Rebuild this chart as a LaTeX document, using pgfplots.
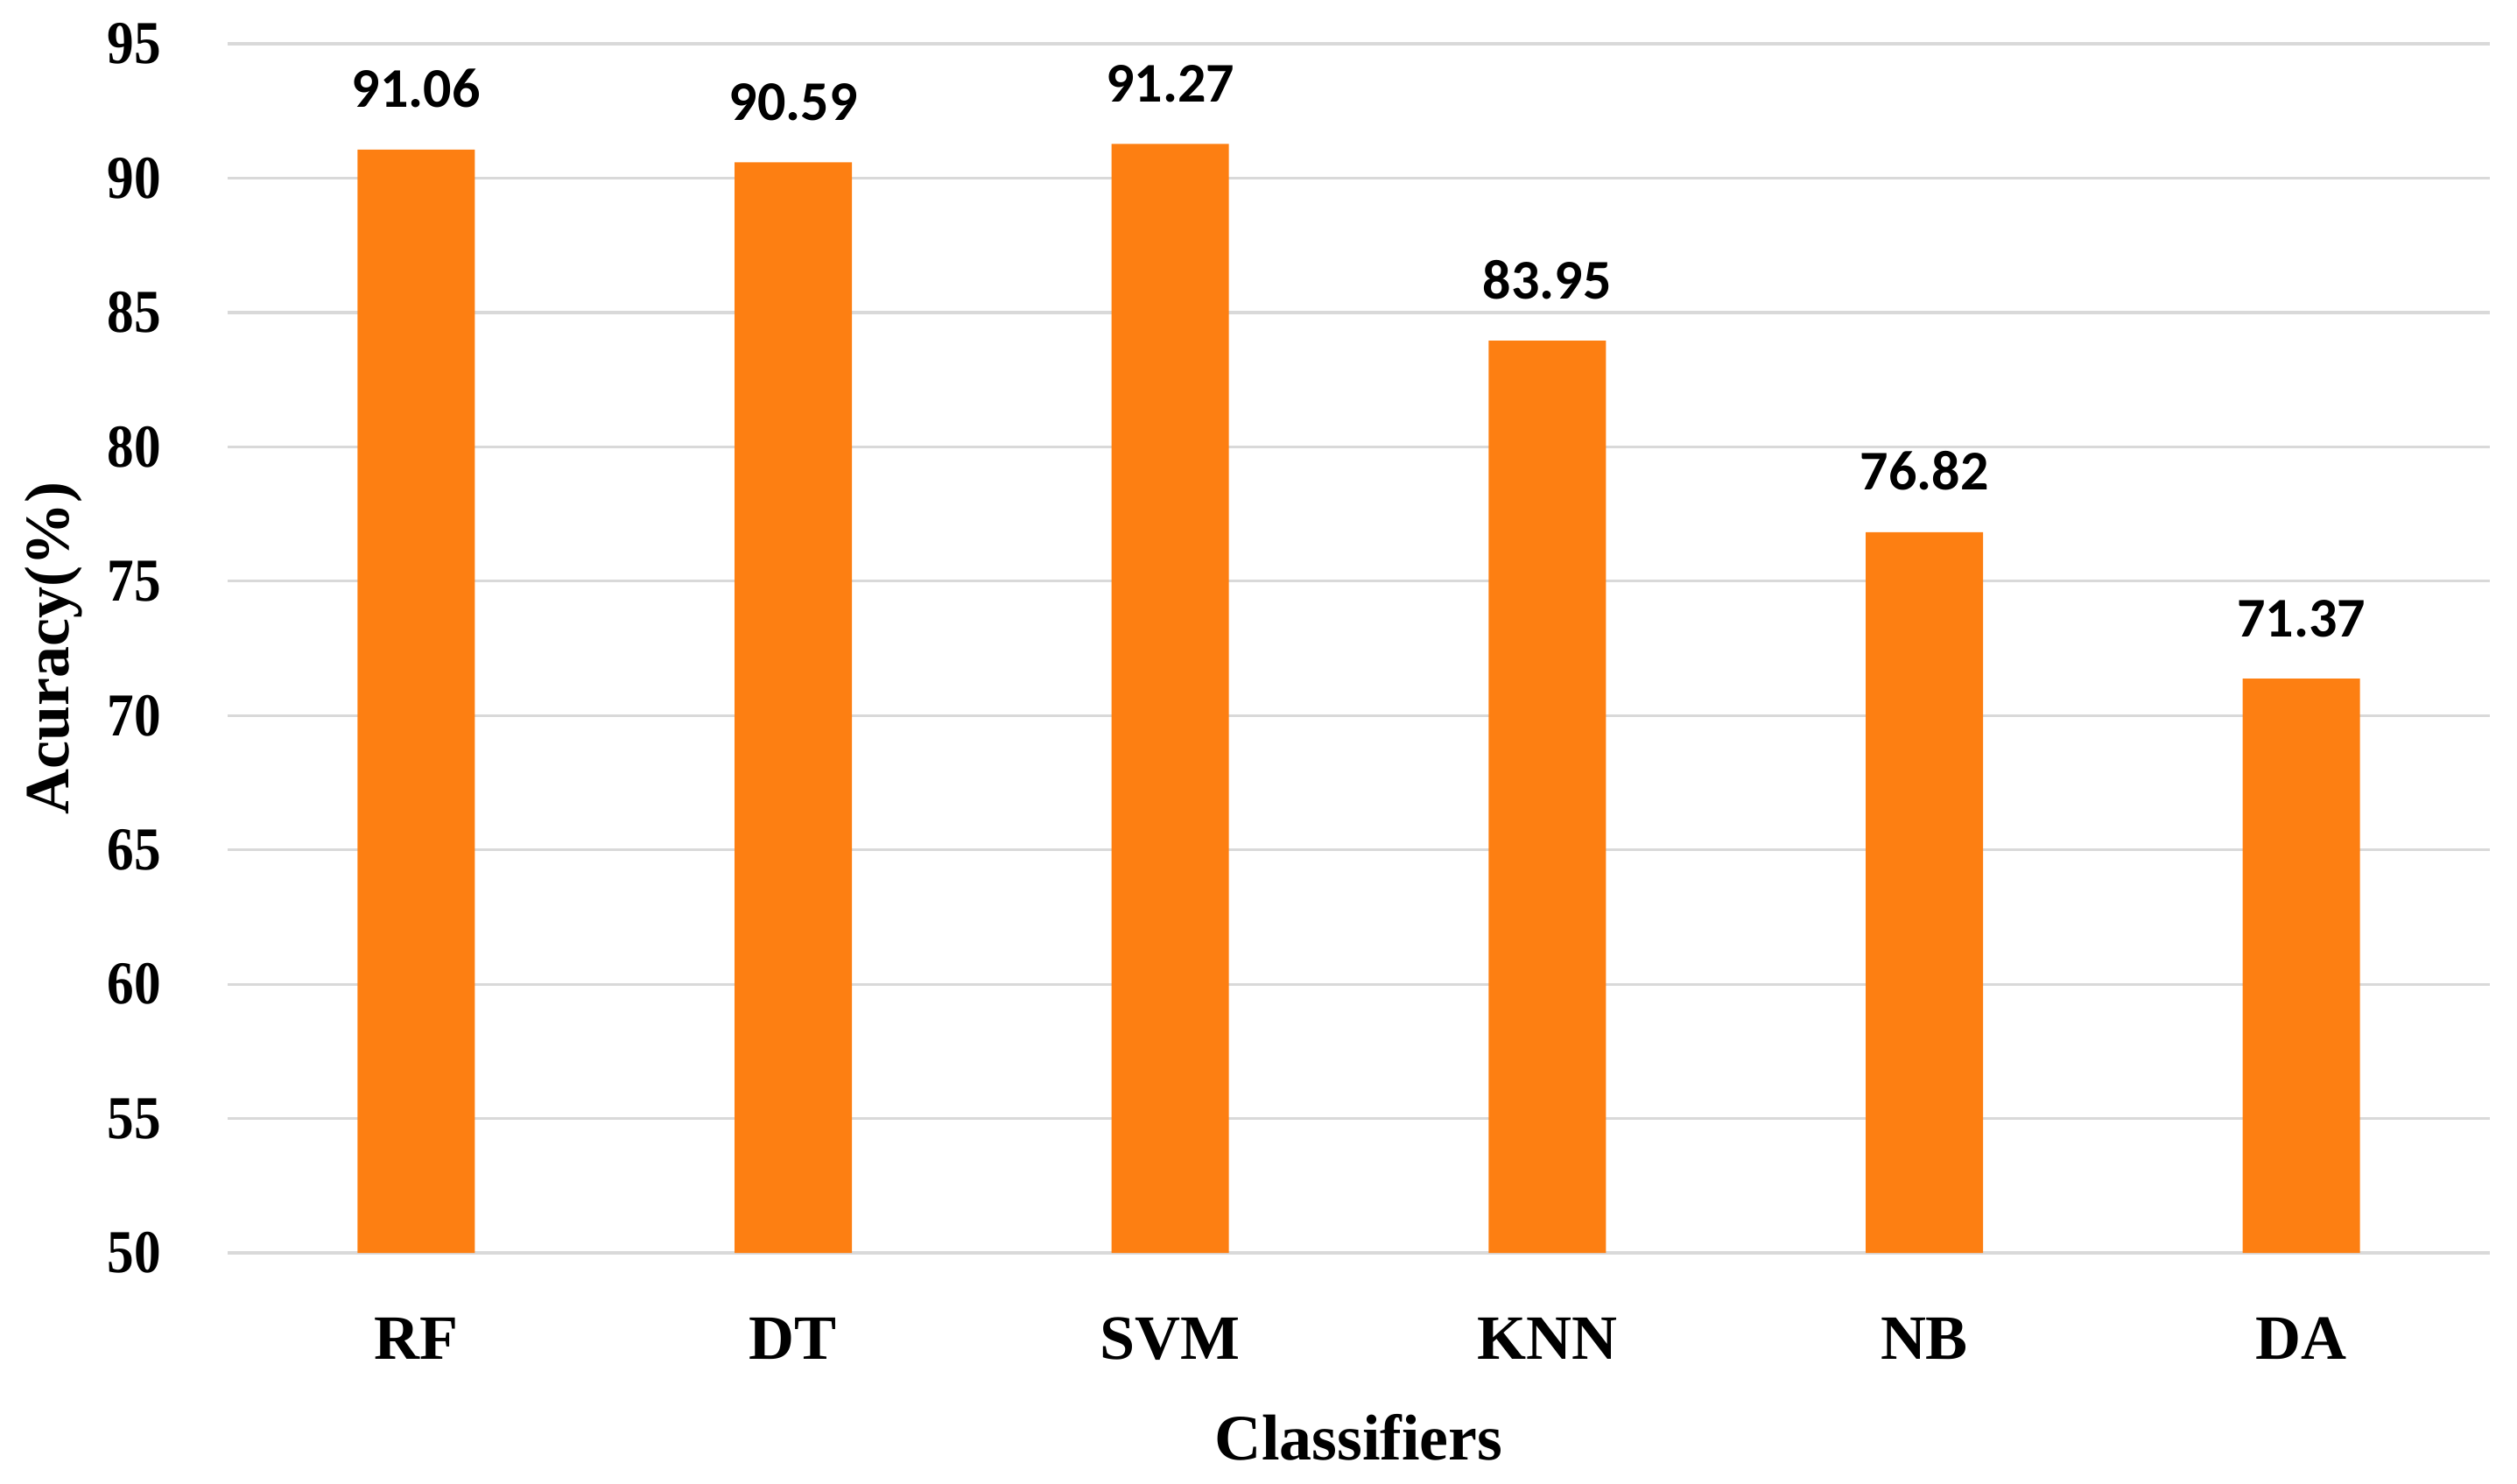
\documentclass[border=0pt]{standalone}
\usepackage{fontspec}
\setmainfont{Liberation Serif}
\newfontfamily\carlito{Carlito}
\newfontfamily\ytickfont{Liberation Serif}[FakeStretch=0.88]
\usepackage{pgfplots}
\pgfplotsset{compat=1.18}
\definecolor{barorange}{HTML}{FD7F12}
\definecolor{gridgray}{HTML}{D9D9D9}
\begin{document}
\begin{tikzpicture}
\begin{axis}[
  at={(0,0)}, anchor=south west,
  scale only axis,
  width=646pt, height=345.25pt,
  xmin=-0.5, xmax=5.5,
  ymin=50, ymax=95,
  ytick={50,55,...,95},
  xtick={0,1,2,3,4,5},
  xticklabels={RF,DT,SVM,KNN,NB,DA},
  /pgf/number format/assume math mode=true,
  axis line style={draw=none},
  major tick length=0pt,
  tick style={draw=none},
  ymajorgrids,
  grid style={gridgray, line width=0.8pt},
  yticklabel style={font=\ytickfont\fontsize{17.4}{20}\selectfont\bfseries, inner sep=0pt, anchor=east, xshift=-18.75pt},
  xticklabel style={font=\fontsize{18}{20}\selectfont\bfseries, inner sep=0pt, anchor=base, yshift=-30.25pt},
  xlabel={Classifiers},
  ylabel={Acuracy(\%)},
  xlabel style={font=\fontsize{18.5}{20}\selectfont\bfseries, inner sep=0pt, at={(axis description cs:0.5,0)}, anchor=base, yshift=-59pt},
  ylabel style={font=\fontsize{18}{20}\selectfont\bfseries, inner sep=0pt, at={(axis description cs:-0.0704,0.5)}, anchor=base},
  ybar, bar width=33.5pt,
  nodes near coords,
  nodes near coords style={font=\carlito\fontsize{16}{18}\selectfont\bfseries, anchor=base, yshift=12pt, /pgf/number format/.cd, fixed, fixed zerofill, precision=2},
]
\addplot[fill=barorange, draw=none] coordinates {(0,91.06) (1,90.59) (2,91.27) (3,83.95) (4,76.82) (5,71.37)};
\end{axis}
\pgfresetboundingbox
\useasboundingbox (-65pt,-65.75pt) rectangle (653.75pt,357.75pt);
\end{tikzpicture}
\end{document}
